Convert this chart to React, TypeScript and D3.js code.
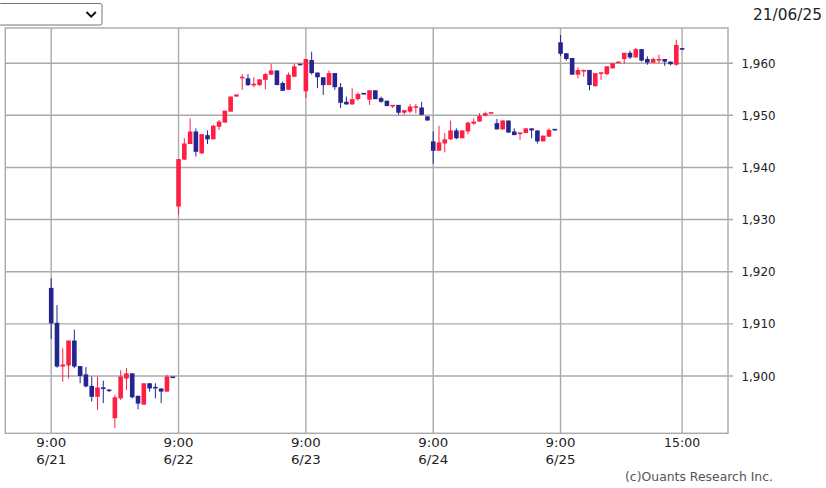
import React from "react";
import * as d3 from "d3";

const dayLabels = ["6/21", "6/22", "6/23", "6/24", "6/25"];
const slotsPerDay = 22;
const xTickSlots = [0, 22, 44, 66, 88, 109];
const xTickTimes = ["9:00", "9:00", "9:00", "9:00", "9:00", "15:00"];
const xTickDates = ["6/21", "6/22", "6/23", "6/24", "6/25", ""];
const yTicks = [1900, 1910, 1920, 1930, 1940, 1950, 1960];

const opens = [
  1916.9, 1910.2, 1901.8, 1902.0, 1906.8, 1901.9, 1900.3, 1898.1, 1896.0, 1897.8, 1897.3, 1891.9, 1895.7, 1899.5, 1900.5, 1896.2, 1894.5, 1898.6, 1897.9, 1897.6, 1897.0, 1899.8,
  1932.5, 1941.5, 1944.5, 1946.9, 1942.7, 1946.2, 1945.4, 1947.8, 1948.6, 1950.7, 1953.6, 1957.1, 1957.1, 1955.8, 1955.8, 1956.8, 1957.8, 1958.6, 1956.2, 1954.9, 1957.4, 1959.8,
  1954.6, 1960.6, 1958.2, 1957.3, 1955.8, 1958.1, 1955.4, 1952.6, 1952.1, 1953.1, 1954.2, 1953.0, 1954.8, 1953.3, 1952.8, 1951.7, 1952.0, 1950.5, 1950.7, 1951.5, 1951.5, 1949.8,
  1945.0, 1943.2, 1944.6, 1945.4, 1947.1, 1945.6, 1946.9, 1948.4, 1948.8, 1949.9, 1950.4, 1948.5, 1947.3, 1949.0, 1946.9, 1946.4, 1946.6, 1947.5, 1947.1, 1945.0, 1945.9, 1947.3,
  1964.0, 1961.9, 1961.0, 1957.8, 1958.4, 1958.7, 1955.6, 1958.0, 1957.9, 1959.0, 1960.0, 1960.8, 1962.0, 1961.1, 1962.7, 1960.8, 1960.1, 1960.5, 1960.8, 1960.3, 1959.7, 1962.8,
];
const highs = [
  1918.7, 1913.6, 1905.3, 1906.8, 1908.9, 1901.9, 1901.7, 1899.9, 1899.9, 1899.1, 1897.4, 1896.4, 1901.1, 1901.5, 1900.5, 1896.2, 1898.6, 1898.6, 1898.6, 1897.6, 1900.2, 1899.8,
  1941.6, 1945.6, 1949.4, 1947.5, 1946.4, 1947.1, 1948.2, 1949.1, 1950.9, 1953.6, 1954.0, 1957.9, 1957.9, 1957.3, 1956.9, 1958.1, 1959.9, 1958.6, 1956.5, 1958.2, 1959.9, 1959.8,
  1960.8, 1962.2, 1958.2, 1957.3, 1958.6, 1958.1, 1956.2, 1953.6, 1955.2, 1954.4, 1954.2, 1954.8, 1954.8, 1953.6, 1952.8, 1952.0, 1952.0, 1951.0, 1952.2, 1952.2, 1952.6, 1949.8,
  1946.9, 1948.0, 1946.6, 1949.0, 1947.5, 1947.1, 1948.8, 1949.4, 1950.4, 1950.7, 1950.5, 1949.3, 1949.1, 1949.0, 1947.5, 1946.7, 1947.5, 1947.5, 1947.1, 1946.1, 1947.5, 1947.3,
  1965.4, 1961.9, 1961.0, 1959.2, 1958.8, 1958.7, 1958.1, 1958.2, 1959.4, 1960.0, 1960.3, 1962.0, 1962.4, 1962.9, 1962.7, 1961.3, 1961.1, 1961.6, 1960.8, 1960.3, 1964.5, 1962.8,
];
const lows = [
  1907.1, 1901.6, 1898.9, 1899.5, 1901.5, 1898.6, 1897.8, 1895.1, 1893.5, 1894.8, 1896.9, 1890.0, 1895.4, 1897.3, 1895.7, 1893.6, 1894.5, 1897.0, 1895.7, 1894.8, 1897.0, 1899.6,
  1930.9, 1941.4, 1944.5, 1942.1, 1942.6, 1944.5, 1945.4, 1947.2, 1948.6, 1950.7, 1953.6, 1954.9, 1955.6, 1955.4, 1955.6, 1955.0, 1957.8, 1955.8, 1954.7, 1954.9, 1957.3, 1959.6,
  1953.3, 1957.8, 1955.2, 1953.9, 1955.8, 1954.9, 1951.4, 1952.0, 1952.0, 1952.8, 1954.0, 1952.0, 1953.1, 1952.4, 1951.7, 1951.4, 1950.1, 1950.1, 1950.4, 1950.4, 1950.0, 1949.0,
  1940.7, 1943.2, 1942.9, 1945.3, 1945.4, 1945.6, 1946.4, 1948.2, 1948.8, 1949.8, 1950.4, 1947.3, 1947.2, 1946.6, 1946.2, 1945.3, 1946.6, 1945.6, 1944.6, 1945.0, 1945.9, 1947.1,
  1961.4, 1960.5, 1957.8, 1957.1, 1957.4, 1954.8, 1955.5, 1956.8, 1957.7, 1959.0, 1960.0, 1959.9, 1960.8, 1961.1, 1960.3, 1959.7, 1960.1, 1960.0, 1959.5, 1959.6, 1959.5, 1962.6,
];
const closes = [
  1910.1, 1901.8, 1902.2, 1906.8, 1901.8, 1900.0, 1898.0, 1896.0, 1897.8, 1897.5, 1897.2, 1895.9, 1899.9, 1900.5, 1895.9, 1894.7, 1898.6, 1897.6, 1897.6, 1897.0, 1899.9, 1899.7,
  1941.6, 1944.6, 1946.9, 1943.0, 1946.4, 1945.4, 1948.0, 1948.8, 1950.9, 1953.6, 1954.0, 1957.4, 1955.8, 1956.0, 1956.9, 1957.9, 1958.6, 1955.8, 1954.7, 1957.8, 1959.4, 1959.7,
  1960.8, 1958.1, 1957.3, 1955.8, 1958.1, 1955.4, 1952.4, 1952.1, 1953.1, 1954.1, 1954.1, 1954.8, 1953.1, 1952.6, 1951.8, 1952.0, 1950.5, 1951.0, 1951.7, 1951.7, 1950.1, 1949.0,
  1943.2, 1944.8, 1945.4, 1947.1, 1945.6, 1947.1, 1948.6, 1948.8, 1949.9, 1950.4, 1950.5, 1947.3, 1949.0, 1946.7, 1946.2, 1946.7, 1947.5, 1947.1, 1945.0, 1946.1, 1947.2, 1947.2,
  1961.8, 1960.8, 1957.8, 1958.7, 1958.7, 1955.8, 1958.1, 1958.2, 1959.4, 1960.0, 1960.3, 1962.0, 1961.1, 1962.7, 1960.5, 1960.1, 1960.8, 1960.8, 1960.3, 1959.8, 1963.5, 1962.7,
];

const UP = "#ff1f45";
const DOWN = "#25258f";
const GRID = "#aaaaaa";

export default function App() {
  const W = 826;
  const H = 488;
  const left = 5.3;
  const right = 728;
  const top = 28;
  const bottom = 433.3;

  const x = d3.scaleLinear().domain([-7.93, 116.93]).range([left, right]);
  const y = d3.scaleLinear().domain([1889.0, 1966.75]).range([bottom, top]);
  const fmt = d3.format(",");
  const bodyW = 4.6;

  const candles = opens.map((o, i) => ({
    i,
    o,
    h: highs[i],
    l: lows[i],
    c: closes[i],
  }));

  return (
    <svg
      width={W}
      height={H}
      style={{ position: "absolute", left: 0, top: 0, background: "#fff" }}
      fontFamily="DejaVu Sans, sans-serif"
    >
      {/* dropdown */}
      <rect x={-1.5} y={3.5} width={103.5} height={21.5} rx={2} fill="#fff" stroke="#767676" strokeWidth={1} />
      <path d="M86.5,12 L91.2,16.7 L95.9,12" fill="none" stroke="#111" strokeWidth={1.9} />

      {/* date */}
      <text x={822} y={20} textAnchor="end" fontSize={15.5} fill="#222" textLength={69} lengthAdjust="spacingAndGlyphs">
        21/06/25
      </text>

      {/* horizontal grid + ticks */}
      {yTicks.map((t) => (
        <g key={t}>
          <line x1={left} x2={right + 5} y1={y(t)} y2={y(t)} stroke={GRID} strokeWidth={1.4} />
          <text x={741.5} y={y(t) + 4.6} fontSize={13} fill="#222" textLength={34} lengthAdjust="spacingAndGlyphs">
            {fmt(t)}
          </text>
        </g>
      ))}

      {/* vertical grid */}
      {xTickSlots.map((s, k) => (
        <g key={k}>
          <line x1={x(s)} x2={x(s)} y1={top} y2={bottom} stroke={GRID} strokeWidth={1.4} />
          <text x={x(s)} y={446.5} textAnchor="middle" fontSize={13} fill="#222" textLength={xTickTimes[k].length === 4 ? 30 : 36} lengthAdjust="spacingAndGlyphs">
            {xTickTimes[k]}
          </text>
          {xTickDates[k] && (
            <text x={x(s)} y={463.5} textAnchor="middle" fontSize={13} fill="#222" textLength={30} lengthAdjust="spacingAndGlyphs">
              {xTickDates[k]}
            </text>
          )}
        </g>
      ))}

      {/* border */}
      <rect x={left} y={top} width={right - left} height={bottom - top} fill="none" stroke={GRID} strokeWidth={1.4} />

      {/* candles */}
      {candles.map((d) => {
        const cx = x(d.i);
        const up = d.c > d.o;
        const col = up ? UP : DOWN;
        const yTop = y(Math.max(d.o, d.c));
        const yBot = y(Math.min(d.o, d.c));
        const bh = Math.max(1.6, yBot - yTop);
        return (
          <g key={d.i}>
            <line x1={cx} x2={cx} y1={y(d.h)} y2={y(d.l)} stroke={col} strokeWidth={1} />
            <rect x={cx - bodyW / 2} y={yTop - (bh - (yBot - yTop)) / 2} width={bodyW} height={bh} fill={col} />
          </g>
        );
      })}

      {/* copyright */}
      <text x={625} y={481} fontSize={12} fill="#555" textLength={148} lengthAdjust="spacingAndGlyphs">
        (c)Ouants Research Inc.
      </text>
    </svg>
  );
}
